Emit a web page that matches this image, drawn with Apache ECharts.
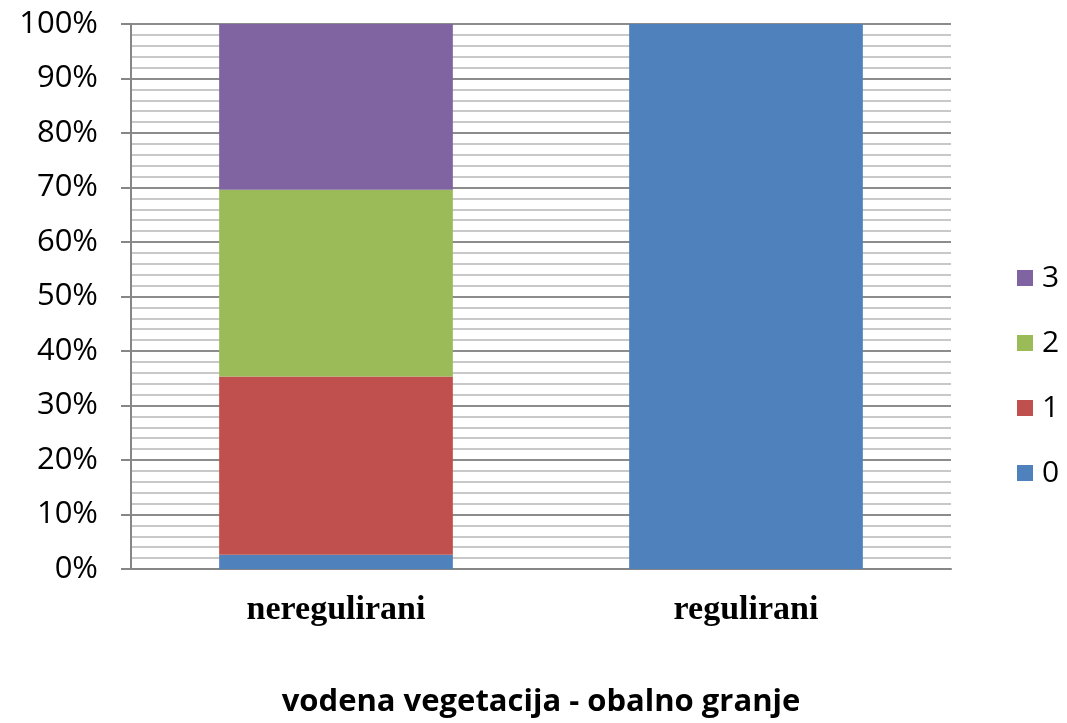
<!DOCTYPE html>
<html>
<head>
<meta charset="utf-8">
<script src="https://cdn.jsdelivr.net/npm/echarts@6/dist/echarts.min.js"></script>
<style>html,body{margin:0;padding:0;background:#fff}#c{width:1067px;height:723px}</style>
</head>
<body>
<div id="c"></div>
<script>
const categories = ['neregulirani', 'regulirani'];
const s0 = [2.6, 100];
const s1 = [32.7, 0];
const s2 = [34.3, 0];
const s3 = [30.4, 0];
const seriesNames = ['0', '1', '2', '3'];
const colors = ['#4F81BD', '#C0504D', '#9BBB59', '#8064A2'];
const axisTitle = 'vodena vegetacija - obalno granje';

const chart = echarts.init(document.getElementById('c'));
const data = [s0, s1, s2, s3];
chart.setOption({
  animation: false,
  grid: {left: 131, right: 116, top: 24, bottom: 150},
  legend: {
    orient: 'vertical',
    left: 1012,
    top: 258,
    itemWidth: 16,
    itemHeight: 16,
    itemGap: 35,
    icon: 'rect',
    data: ['3', '2', '1', '0'],
    textStyle: {fontFamily: 'Open Sans', fontSize: 30, color: '#000', lineHeight: 30, padding: [0, 0, 0, 4]}
  },
  xAxis: {
    type: 'category',
    data: categories,
    axisTick: {show: false},
    axisLine: {lineStyle: {color: '#868686', width: 2}},
    axisLabel: {
      margin: 24,
      fontFamily: 'Liberation Serif',
      fontWeight: 'bold',
      fontSize: 34,
      color: '#000'
    },
    name: axisTitle,
    nameLocation: 'middle',
    nameGap: 118,
    nameTextStyle: {fontFamily: 'Open Sans', fontWeight: 'bold', fontSize: 31, color: '#000'}
  },
  yAxis: {
    type: 'value',
    min: 0,
    max: 100,
    interval: 10,
    axisLine: {show: true, lineStyle: {color: '#868686', width: 2}},
    axisTick: {show: true, length: 10, lineStyle: {color: '#868686', width: 2}},
    axisLabel: {
      formatter: '{value}%',
      margin: 33,
      fontFamily: 'Open Sans',
      fontSize: 31,
      color: '#000'
    },
    splitLine: {lineStyle: {color: '#8c8c8c', width: 2}},
    minorTick: {show: false, splitNumber: 5},
    minorSplitLine: {show: true, lineStyle: {color: '#c8c8c8', width: 2}}
  },
  series: data.map((d, i) => ({
    name: seriesNames[i],
    type: 'bar',
    stack: 'total',
    barWidth: '57%',
    data: d,
    itemStyle: {color: colors[i]}
  }))
});
</script>
</body>
</html>
